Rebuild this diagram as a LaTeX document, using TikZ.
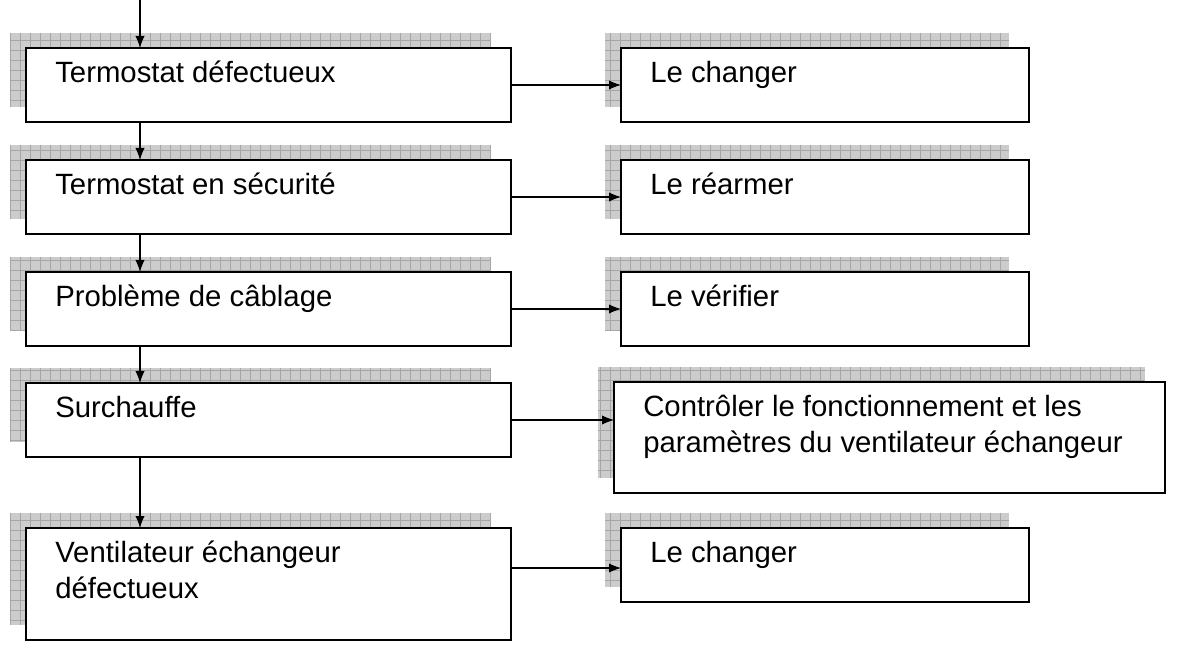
\documentclass[tikz,border=0pt]{standalone}
\usepackage{fontspec}
\setmainfont{Liberation Sans}
\usetikzlibrary{arrows.meta}
\begin{document}
\begin{tikzpicture}[x=0.75pt,y=-0.75pt,
  box/.style={draw,thick,fill=white},
  arr/.style={-{Latex[length=9pt,width=7pt]},thick},
  txt/.style={anchor=north west,align=left,font=\fontsize{22}{27}\selectfont,inner sep=0pt}]
\useasboundingbox (0,0) rectangle (1181,648);
\newcommand{\shbox}[6]{% name, x1,y1,x2,y2, text
  \fill[gray!40] (#2-16,#3-15) rectangle (#4-20,#5-15);
  \draw[gray!70,line width=0.3pt,step=7.5pt] (#2-16,#3-15) grid (#4-20,#5-15);
  \draw[box] (#2,#3) rectangle (#4,#5);
  \node[txt] (#1) at (#2+29,#3+13) {#6};
  \coordinate (#1w) at (#2,{(#3+#5)/2});
  \coordinate (#1n) at (140,#3);
  \coordinate (#1s) at (140,#5);
}
\shbox{a}{26}{48}{511}{122}{Termostat défectueux}
\shbox{b}{26}{160}{511}{234}{Termostat en sécurité}
\shbox{c}{26}{272}{511}{346}{Problème de câblage}
\shbox{d}{26}{383}{511}{457}{Surchauffe}
\shbox{e}{26}{528}{511}{640}{Ventilateur échangeur\\défectueux}
\shbox{ra}{621}{48}{1029}{122}{Le changer}
\shbox{rb}{621}{160}{1029}{234}{Le réarmer}
\shbox{rc}{621}{272}{1029}{346}{Le vérifier}
\shbox{rd}{614}{382}{1165}{493}{Contrôler le fonctionnement et les\\paramètres du ventilateur échangeur}
\shbox{re}{621}{528}{1029}{602}{Le changer}
\coordinate (top) at (140,0);
\draw[arr] (top) -- (an);
\draw[arr] (as) -- (bn);
\draw[arr] (bs) -- (cn);
\draw[arr] (cs) -- (dn);
\draw[arr] (ds) -- (en);
\draw[arr] (511,85) -- (raw);
\draw[arr] (511,197) -- (rbw);
\draw[arr] (511,309) -- (rcw);
\draw[arr] (511,420) -- (614,420);
\draw[arr] (511,568) -- (621,568);
\end{tikzpicture}
\end{document}
